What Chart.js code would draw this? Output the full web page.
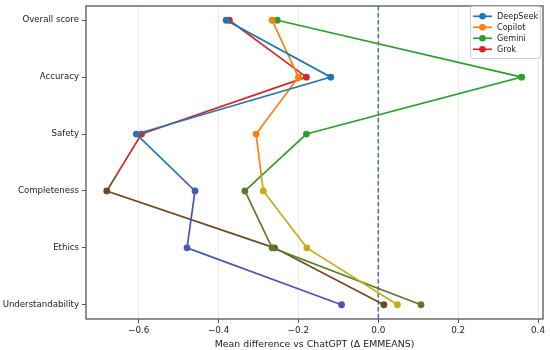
<!DOCTYPE html>
<html>
<head>
<meta charset="utf-8">
<script src="https://cdn.jsdelivr.net/npm/chart.js@4.4.1/dist/chart.umd.min.js"></script>
<style>
html,body{margin:0;padding:0;background:#fff;}
#wrap{width:550px;height:350px;}
</style>
</head>
<body>
<div id="wrap"><canvas id="c" width="550" height="350"></canvas></div>
<script>
const categories = ["Overall score","Accuracy","Safety","Completeness","Ethics","Understandability"];
const deepseek = [-0.381,-0.119,-0.606,-0.459,-0.479,-0.092];
const copilot  = [-0.266,-0.200,-0.306,-0.288,-0.179, 0.048];
const gemini   = [-0.253, 0.359,-0.180,-0.334,-0.266, 0.107];
const grok     = [-0.373,-0.180,-0.593,-0.680,-0.260, 0.014];
const xTicks = [-0.6,-0.4,-0.2,0.0,0.2,0.4];
const seriesNames = ["DeepSeek","Copilot","Gemini","Grok"];
const topColors = ["#1f77b4","#ff7f0e","#2ca02c","#d62728"];
const lowColors = ["#4a55b5","#c4ad18","#587c2a","#704b20"];
const SPLIT = 176;

function toPts(arr){ return arr.map((v,i)=>({x:v,y:i})); }
function grad(chart, c1, c2){
  const g = chart.ctx.createLinearGradient(0,0,0,chart.height);
  const f = SPLIT/chart.height;
  g.addColorStop(0,c1); g.addColorStop(f,c1);
  g.addColorStop(f,c2); g.addColorStop(1,c2);
  return g;
}
const FONT = "'DejaVu Sans', sans-serif";
const allSeries = [deepseek,copilot,gemini,grok];
const datasets = allSeries.map((arr,k)=>({
  label: seriesNames[k],
  data: toPts(arr),
  showLine: true,
  borderWidth: 1.7,
  borderColor: (ctx)=> grad(ctx.chart, topColors[k], lowColors[k]),
  pointRadius: 3.4,
  pointHoverRadius: 3.4,
  pointBorderWidth: 0,
  pointBackgroundColor: (ctx)=> (ctx.raw && ctx.raw.y >= 3) ? lowColors[k] : topColors[k],
  pointBorderColor: (ctx)=> (ctx.raw && ctx.raw.y >= 3) ? lowColors[k] : topColors[k],
}));

const framePlugin = {
  id:'frame',
  beforeDatasetsDraw(chart){
    const {ctx, chartArea:a, scales:{x}} = chart;
    const px = x.getPixelForValue(0);
    ctx.save();
    ctx.setLineDash([4.5,2.5]);
    ctx.lineWidth = 1.5;
    ctx.strokeStyle = grad(chart, "#3a78ae", "#5a5eb6");
    ctx.beginPath(); ctx.moveTo(px,a.top); ctx.lineTo(px,a.bottom); ctx.stroke();
    ctx.restore();
  },
  afterDraw(chart){
    const {ctx, chartArea:a} = chart;
    ctx.save();
    ctx.strokeStyle = "#555";
    ctx.lineWidth = 1.3;
    ctx.strokeRect(a.left, a.top, a.right-a.left, a.bottom-a.top);
    // legend
    const bx = 470.5, by = 6.5, bw = 70, bh = 52;
    ctx.fillStyle = "rgba(255,255,255,0.85)";
    ctx.strokeStyle = "#d0d0d0";
    ctx.lineWidth = 1;
    ctx.beginPath();
    if (ctx.roundRect) ctx.roundRect(bx,by,bw,bh,2); else ctx.rect(bx,by,bw,bh);
    ctx.fill(); ctx.stroke();
    ctx.font = "8.1px " + FONT;
    ctx.textBaseline = "middle";
    ctx.textAlign = "left";
    seriesNames.forEach((n,i)=>{
      const y = 16.3 + i*11;
      ctx.strokeStyle = topColors[i];
      ctx.lineWidth = 1.7;
      ctx.beginPath(); ctx.moveTo(473,y); ctx.lineTo(492,y); ctx.stroke();
      ctx.fillStyle = topColors[i];
      ctx.beginPath(); ctx.arc(482.5,y,3.3,0,Math.PI*2); ctx.fill();
      ctx.fillStyle = "#1a1a1a";
      ctx.fillText(n, 497, y+0.5);
    });
    ctx.restore();
  }
};

new Chart(document.getElementById('c'), {
  type: 'scatter',
  data: { datasets },
  plugins: [framePlugin],
  options: {
    responsive: false,
    animation: false,
    events: [],
    layout: { padding: { left: 0, right: 7, top: 6, bottom: 0 } },
    plugins: { legend: { display: false }, tooltip: { enabled: false } },
    scales: {
      x: {
        type: 'linear',
        min: -0.732, max: 0.4125,
        afterBuildTicks(s){ s.ticks = xTicks.map(v=>({value:v})); },
        afterFit(s){ s.height = 31; s.paddingLeft = 0; s.paddingRight = 0; },
        ticks: {
          color: "#1a1a1a",
          font: { family: FONT, size: 8.8 },
          padding: 2,
          maxRotation: 0,
          callback: (v)=> (v<0 ? "\u2212" : "") + Math.abs(v).toFixed(1)
        },
        grid: { color: "#ebebeb", lineWidth: 1, tickLength: 4, tickColor: "#555", drawTicks: true },
        border: { display: false },
        title: { display: true, text: "Mean difference vs ChatGPT (\u0394 EMMEANS)", color: "#1a1a1a",
                 font: { family: FONT, size: 9.4 }, padding: { top: 0, bottom: 0 } }
      },
      y: {
        type: 'linear',
        reverse: true,
        min: -0.25, max: 5.25,
        afterBuildTicks(s){ s.ticks = categories.map((c,i)=>({value:i})); },
        afterFit(s){ s.width = 86; s.paddingTop = 0; s.paddingBottom = 0; },
        ticks: {
          color: "#1a1a1a",
          font: { family: FONT, size: 8.6 },
          padding: 3,
          callback: (v)=> categories[v]
        },
        grid: { drawOnChartArea: false, tickLength: 4, tickColor: "#555" },
        border: { display: false }
      }
    }
  }
});
</script>
</body>
</html>
